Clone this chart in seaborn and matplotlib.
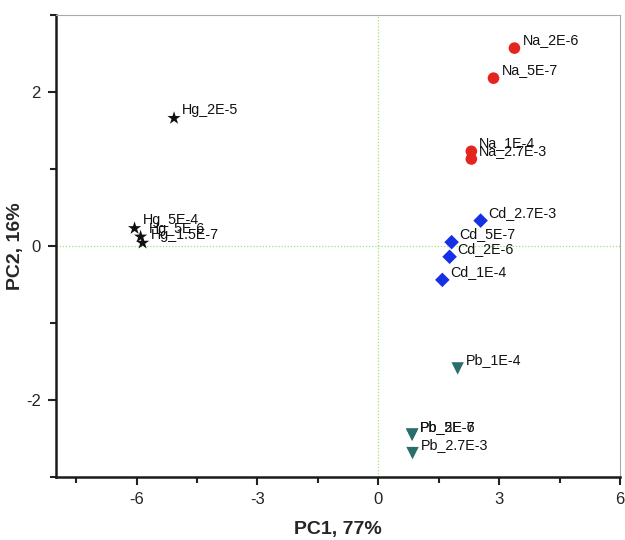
import matplotlib
matplotlib.use("Agg")
import matplotlib.pyplot as plt
import seaborn as sns
import pandas as pd
from matplotlib.ticker import MultipleLocator

sns.set_style("white")
plt.rcParams['font.family'] = ['Liberation Sans', 'DejaVu Sans']
plt.rcParams['axes.unicode_minus'] = False

labels = ["Hg_2E-5", "Hg_5E-4", "Hg_5E-6", "Hg_1.5E-7",
          "Na_2E-6", "Na_5E-7", "Na_1E-4", "Na_2.7E-3",
          "Cd_2.7E-3", "Cd_5E-7", "Cd_2E-6", "Cd_1E-4",
          "Pb_1E-4", "Pb_2E-6", "Pb_5E-7", "Pb_2.7E-3"]
pc1 = [-5.07, -6.05, -5.90, -5.85,
       3.38, 2.86, 2.31, 2.31,
       2.54, 1.82, 1.77, 1.59,
       1.97, 0.84, 0.84, 0.85]
pc2 = [1.66, 0.23, 0.12, 0.04,
       2.57, 2.18, 1.23, 1.13,
       0.33, 0.05, -0.14, -0.44,
       -1.59, -2.45, -2.45, -2.69]
group = [l.split("_")[0] for l in labels]

df = pd.DataFrame({"PC1": pc1, "PC2": pc2, "label": labels, "group": group})

palette = {"Hg": "#111111", "Na": "#e52420", "Cd": "#1630e6", "Pb": "#2a6e6c"}
markers = {"Hg": "*", "Na": "o", "Cd": "D", "Pb": "v"}
sizes = {"Hg": 100, "Na": 70, "Cd": 55, "Pb": 80}

fig = plt.figure(figsize=(6.25, 5.4), dpi=100)
ax = fig.add_axes([0.0896, 0.1167, 0.9024, 0.8555])

ax.axhline(0, color="#9ee07a", lw=0.9, ls=(0, (1, 1.5)), zorder=0)
ax.axvline(0, color="#9ee07a", lw=0.9, ls=(0, (1, 1.5)), zorder=0)

for g in ["Hg", "Na", "Cd", "Pb"]:
    sub = df[df.group == g]
    sns.scatterplot(data=sub, x="PC1", y="PC2", color=palette[g], marker=markers[g],
                    s=sizes[g], edgecolor="none", ax=ax, legend=False, zorder=3)

for x, y, t in zip(pc1, pc2, labels):
    ax.annotate(t, (x, y), xytext=(8, 8), textcoords="offset pixels",
                fontsize=10.3, va="center", ha="left", color="#111111")

ax.set_xlim(-8, 6)
ax.set_ylim(-3, 3)
ax.xaxis.set_major_locator(MultipleLocator(3))
ax.xaxis.set_minor_locator(MultipleLocator(1.5))
ax.yaxis.set_major_locator(MultipleLocator(2))
ax.yaxis.set_minor_locator(MultipleLocator(1))
ax.set_xticks([-6, -3, 0, 3, 6])
ax.set_yticks([-2, 0, 2])

ax.tick_params(axis="both", which="major", direction="out", length=6, width=1.5,
               labelsize=12, color="#222222", bottom=True, left=True, pad=5)
ax.tick_params(axis="both", which="minor", direction="out", length=4, width=1.5,
               color="#222222", bottom=True, left=True)

for s in ["left", "bottom"]:
    ax.spines[s].set_linewidth(1.8)
    ax.spines[s].set_color("#1a1a1a")
for s in ["top", "right"]:
    ax.spines[s].set_linewidth(0.8)
    ax.spines[s].set_color("#aaaaaa")

ax.set_xlabel("PC1, 77%", fontsize=14, fontweight="bold", labelpad=10)
ax.set_ylabel("PC2, 16%", fontsize=14, fontweight="bold", labelpad=1)

fig.savefig("out.png", dpi=100)
